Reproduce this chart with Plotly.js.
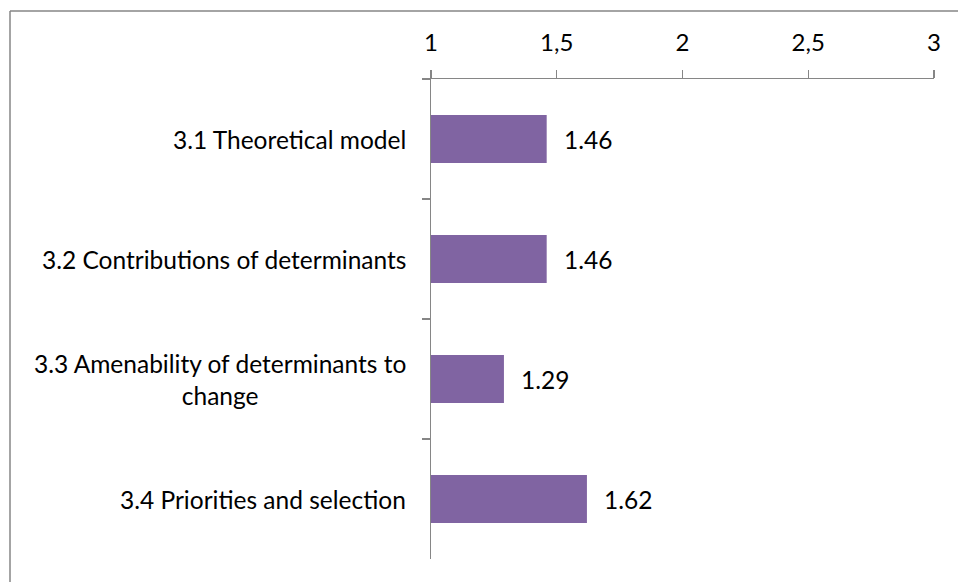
<!DOCTYPE html>
<html>
<head>
<meta charset="utf-8">
<script src="https://cdn.plot.ly/plotly-3.0.1.min.js"></script>
<style>html,body{margin:0;padding:0;background:#fff;}</style>
</head>
<body>
<div id="chart" style="width:958px;height:582px;"></div>
<script>
var categories = ["3.1 Theoretical model", "3.2 Contributions of determinants", "3.3 Amenability of determinants to change", "3.4 Priorities and selection"];
var categoryLabels = ["3.1 Theoretical model", "3.2 Contributions of determinants", "3.3 Amenability of determinants to<br>change", "3.4 Priorities and selection"];
var values = [1.46, 1.46, 1.29, 1.62];
var valueLabels = ["1.46", "1.46", "1.29", "1.62"];
var tickValues = [1, 1.5, 2, 2.5, 3];

var W = 958, H = 582, L = 431, R = 24, T = 79, B = 23;
var pw = W - L - R, ph = H - T - B;
var FONT = "Lato, 'Noto Sans', sans-serif";
var gray = "#868686";

var annotations = [];
categories.forEach(function (c, i) {
  annotations.push({
    xref: "paper", yref: "y", x: 0, y: c, xanchor: "right", yanchor: "middle",
    xshift: -23, text: categoryLabels[i], showarrow: false, align: "center",
    font: {family: FONT, size: 24.5, color: "#000"}
  });
  annotations.push({
    xref: "x", yref: "y", x: values[i], y: c, xanchor: "left", yanchor: "middle",
    xshift: 15, text: valueLabels[i], showarrow: false,
    font: {family: FONT, size: 24.5, color: "#000"}
  });
});

var trace = {
  type: "bar", orientation: "h",
  y: categories, x: values,
  marker: {color: "#8064A2", line: {width: 0}},
  hoverinfo: "none"
};

var layout = {
  width: W, height: H,
  margin: {l: L, r: R, t: T, b: B, pad: 0},
  paper_bgcolor: "#fff", plot_bgcolor: "#fff",
  separators: ",.",
  showlegend: false,
  bargap: 0.6,
  font: {family: FONT, color: "#000"},
  xaxis: {
    side: "top", range: [1, 3], tickvals: tickValues,
    showgrid: false, zeroline: false,
    showline: true, linecolor: gray, linewidth: 1.3,
    ticks: "outside", ticklen: 8, tickcolor: gray, tickwidth: 1.3,
    tickfont: {family: FONT, size: 24, color: "#000"},
    ticklabelstandoff: 9
  },
  yaxis: {
    type: "category", autorange: "reversed",
    showgrid: false, zeroline: false,
    showline: true, linecolor: gray, linewidth: 1.3,
    ticks: "outside", ticklen: 8, tickcolor: gray, tickwidth: 1.3,
    tickson: "boundaries", showticklabels: false
  },
  annotations: annotations,
  shapes: [
    {type: "line", xref: "paper", yref: "paper",
     x0: (10 - L) / pw, x1: (10 - L) / pw, y0: -(B + 10) / ph, y1: 1 + (T - 11) / ph,
     line: {color: gray, width: 1.5}, layer: "below"},
    {type: "line", xref: "paper", yref: "paper",
     x0: (10 - L) / pw, x1: (W + 10 - L) / pw, y0: 1 + (T - 11) / ph, y1: 1 + (T - 11) / ph,
     line: {color: gray, width: 1.5}, layer: "below"}
  ]
};

Plotly.newPlot("chart", [trace], layout, {displayModeBar: false, staticPlot: true});
</script>
</body>
</html>
